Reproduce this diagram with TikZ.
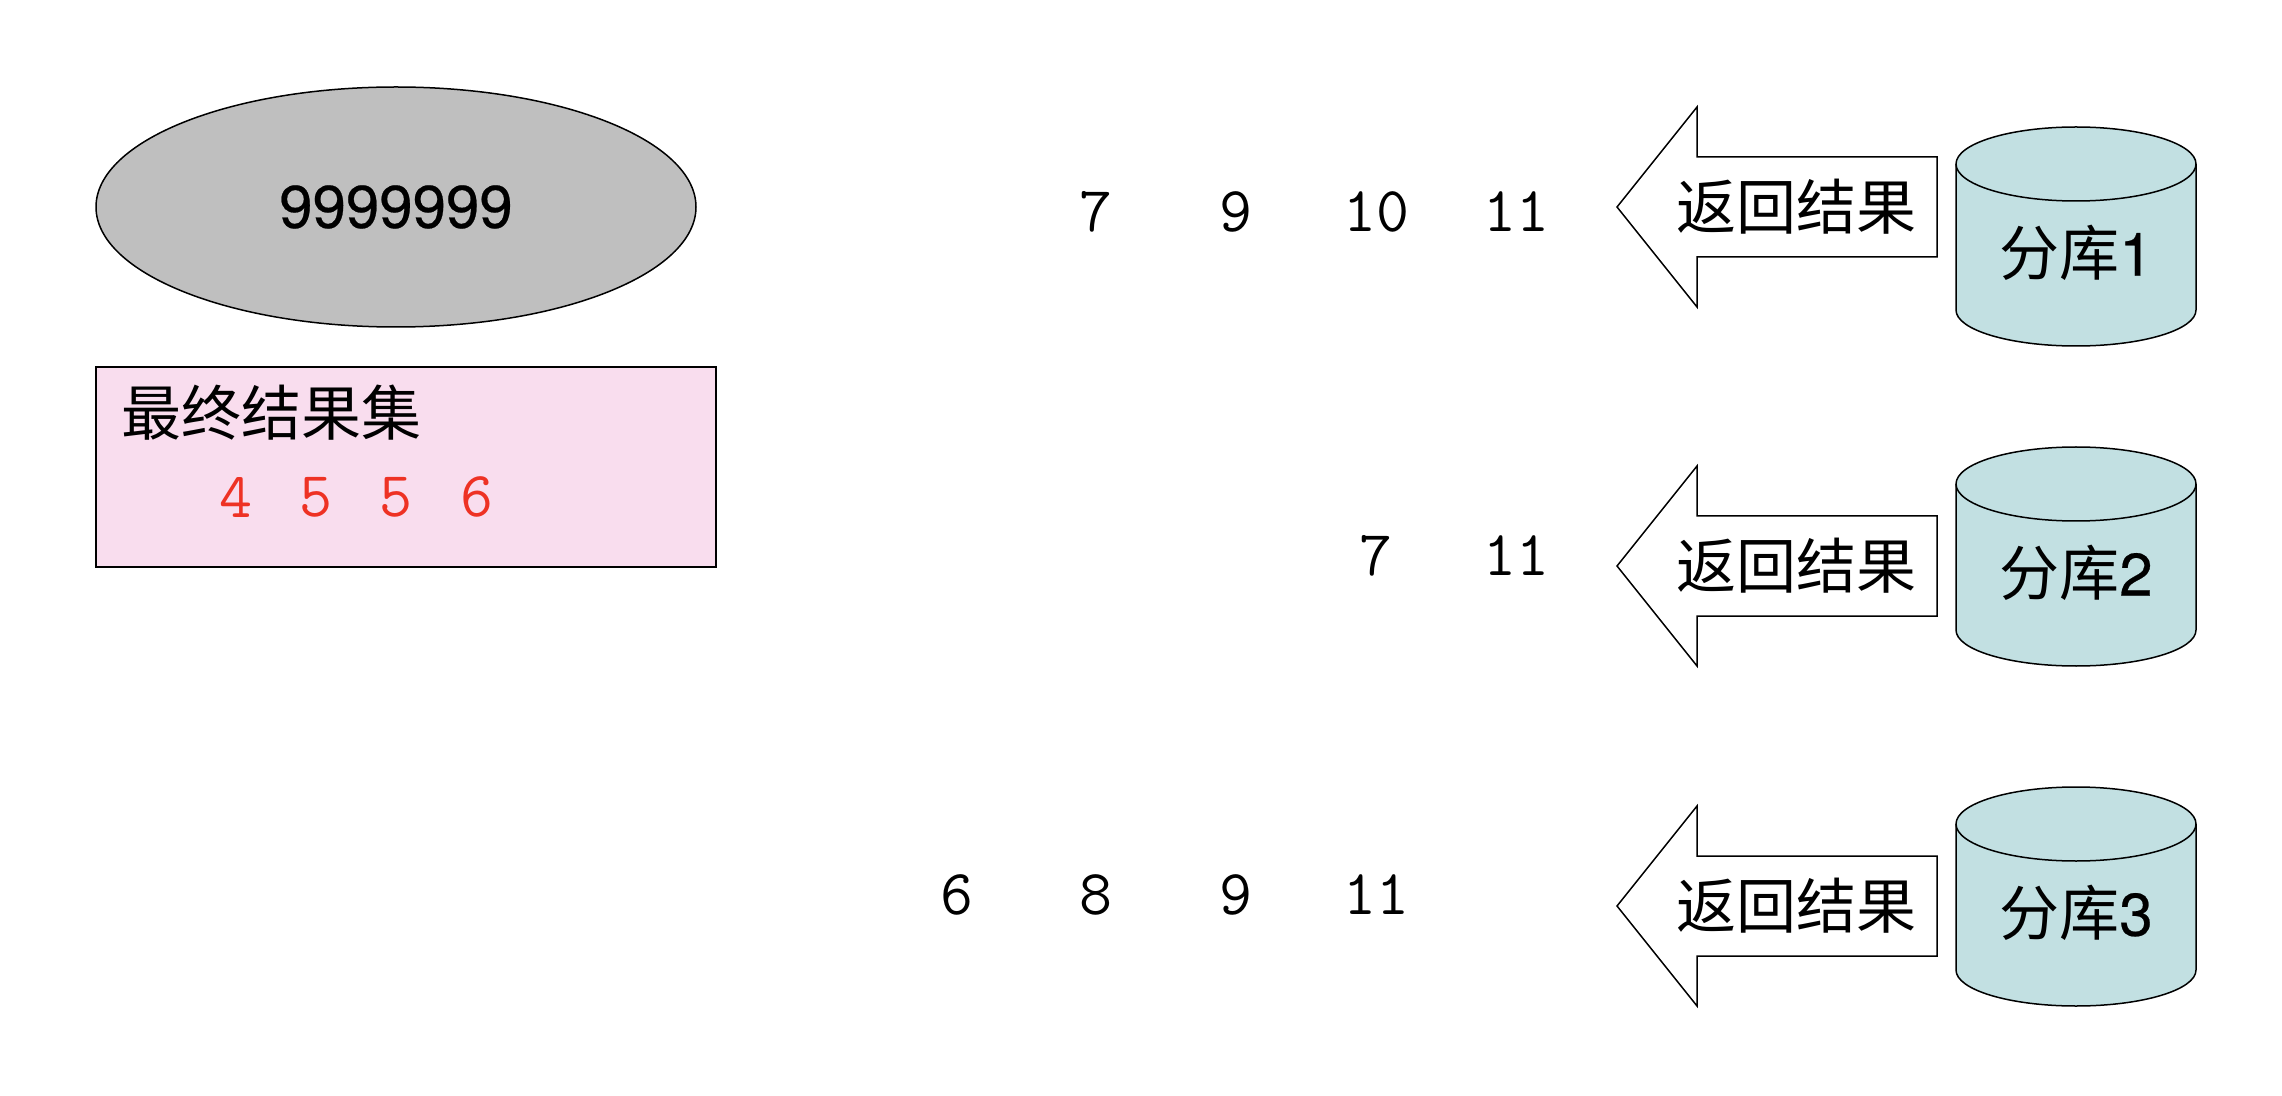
\documentclass[tikz,border=0pt]{standalone}
\usepackage{fontspec}
\setmainfont{TeX Gyre Heros}
\newfontfamily\heavy[FakeBold=0.4]{TeX Gyre Heros}
\newfontfamily\cjk{Noto Sans CJK SC}
\usetikzlibrary{positioning}
\usetikzlibrary{shapes.geometric}
\definecolor{ovalgray}{RGB}{191,191,191}
\definecolor{resultpink}{RGB}{249,221,238}
\definecolor{shardblue}{RGB}{194,224,226}
\definecolor{resultred}{RGB}{238,50,36}
\tikzset{
	numlabel/.style={font=\fontsize{32}{32}\selectfont\ttfamily},
	cjklabel/.style={font=\fontsize{30}{30}\selectfont\cjk},
	outline/.style={draw=black,line width=0.75pt,line join=miter}
}
\begin{document}
\begin{tikzpicture}[x=0.5pt,y=-0.5pt]
	\useasboundingbox (0,0) rectangle (2282,1096);
	% oval and final result box
	\node[ellipse,outline,fill=ovalgray,minimum width=300pt,minimum height=120pt,inner sep=0pt,font=\fontsize{30}{30}\selectfont\heavy] (oval) at (396,207) {9999999};
	\draw[outline,fill=resultpink] (96,367) rectangle (716,567);
	\node[cjklabel,anchor=west,inner sep=0pt] (finaltitle) at (121,413) {最终结果集};
	\foreach \x/\n/\v in {236/a/4,316/b/5,396/c/5,477/d/6}
		\node[numlabel,text=resultred] (final\n) at (\x,497) {\v};
	% numbers from the three shards
	\foreach \x/\n/\v in {1096/a/7,1236/b/9,1376/c/10,1516/d/11}
		\node[numlabel] (one\n) at (\x,212) {\v};
	\foreach \x/\n/\v in {1376/a/7,1516/b/11}
		\node[numlabel] (two\n) at (\x,556) {\v};
	\foreach \x/\n/\v in {957/a/6,1096/b/8,1236/c/9,1376/d/11}
		\node[numlabel] (three\n) at (\x,895) {\v};
	% arrows
	\foreach \y in {207,566,906}
	{
		\draw[outline,fill=white] (1617,\y) -- (1697,\y-100) -- (1697,\y-50) -- (1937,\y-50) -- (1937,\y+50) -- (1697,\y+50) -- (1697,\y+100) -- cycle;
		\node[cjklabel,inner sep=0pt] (back\y) at (1796,\y) {返回结果};
	}
	% shards
	\foreach \y/\n in {127/1,447/2,787/3}
	{
		\draw[outline,fill=shardblue] (1956,\y+37) -- (1956,\y+183) arc[start angle=180,end angle=0,x radius=120,y radius=36] -- (2196,\y+37) arc[start angle=0,end angle=-180,x radius=120,y radius=37];
		\draw[outline] (1956,\y+37) arc[start angle=180,end angle=0,x radius=120,y radius=37];
		\node[inner sep=0pt] (shard\n) at (2076,\y+126) {\fontsize{30}{30}\selectfont{\cjk 分库}{\heavy\n}};
	}
\end{tikzpicture}
\end{document}
